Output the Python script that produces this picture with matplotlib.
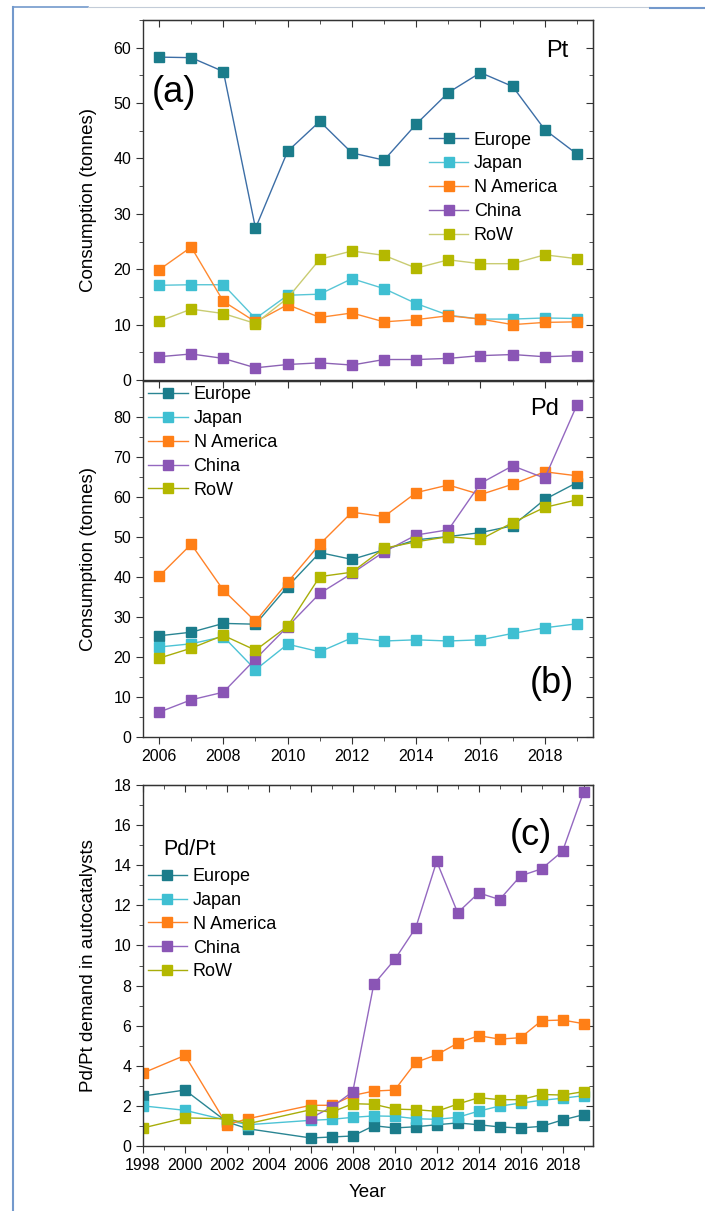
import matplotlib
matplotlib.use("Agg")
import matplotlib.pyplot as plt
from matplotlib.lines import Line2D
from matplotlib.ticker import MultipleLocator

plt.rcParams['font.family'] = ['Liberation Sans', 'DejaVu Sans']

# ---- data -------------------------------------------------------------
regions = ["Europe", "Japan", "N America", "China", "RoW"]

years_ab = [2006, 2007, 2008, 2009, 2010, 2011, 2012,
            2013, 2014, 2015, 2016, 2017, 2018, 2019]

# (a) Pt consumption, tonnes
pt_europe = [58.3, 58.2, 55.7, 27.4, 41.3, 46.7, 41.0, 39.7, 46.2, 51.9, 55.5, 53.0, 45.2, 40.8]
pt_japan = [17.1, 17.2, 17.2, 11.1, 15.3, 15.5, 18.3, 16.5, 13.8, 11.7, 11.0, 11.0, 11.2, 11.1]
pt_namerica = [19.9, 24.0, 14.2, 10.5, 13.6, 11.3, 12.1, 10.5, 10.9, 11.6, 11.0, 10.0, 10.4, 10.5]
pt_china = [4.2, 4.7, 3.9, 2.2, 2.8, 3.1, 2.7, 3.7, 3.7, 3.9, 4.4, 4.6, 4.2, 4.4]
pt_row = [10.6, 12.8, 12.0, 10.2, 14.8, 21.8, 23.3, 22.5, 20.2, 21.7, 21.0, 21.0, 22.6, 21.9]

# (b) Pd consumption, tonnes
pd_europe = [25.3, 26.2, 28.4, 28.2, 37.6, 46.1, 44.4, 46.8, 49.3, 50.1, 51.1, 52.8, 59.4, 63.6]
pd_japan = [22.5, 23.3, 25.1, 16.8, 23.2, 21.3, 24.8, 24.0, 24.3, 24.0, 24.3, 25.9, 27.3, 28.3]
pd_namerica = [40.2, 48.2, 36.7, 28.9, 38.7, 48.2, 56.2, 55.1, 61.1, 63.0, 60.6, 63.2, 66.3, 65.3]
pd_china = [6.2, 9.3, 11.2, 19.5, 27.6, 35.9, 40.9, 46.3, 50.5, 51.8, 63.4, 67.8, 64.7, 83.0]
pd_row = [19.7, 22.2, 25.4, 21.7, 27.7, 40.1, 41.2, 47.2, 48.8, 50.1, 49.4, 53.6, 57.4, 59.3]

# (c) Pd/Pt ratio
years_c = [1998, 2000, 2002, 2003, 2006, 2007, 2008, 2009, 2010,
           2011, 2012, 2013, 2014, 2015, 2016, 2017, 2018, 2019]
years_c_china = years_c[4:]
ratio_europe = [2.49, 2.79, 1.2, 0.86, 0.40, 0.45, 0.50, 1.01, 0.90,
                0.96, 1.06, 1.15, 1.06, 0.95, 0.90, 0.98, 1.30, 1.56]
ratio_japan = [2.0, 1.78, 1.28, 1.06, 1.28, 1.33, 1.43, 1.50, 1.48,
               1.36, 1.33, 1.43, 1.74, 1.99, 2.14, 2.28, 2.38, 2.51]
ratio_namerica = [3.64, 4.52, 1.06, 1.36, 2.03, 2.03, 2.52, 2.74, 2.79,
                  4.17, 4.55, 5.13, 5.50, 5.33, 5.40, 6.25, 6.28, 6.10]
ratio_china = [1.40, 1.94, 2.71, 8.06, 9.30, 10.88, 14.19, 11.63,
               12.62, 12.29, 13.47, 13.82, 14.70, 17.64]
ratio_row = [0.90, 1.40, 1.36, 1.11, 1.81, 1.69, 2.11, 2.08, 1.84,
             1.81, 1.73, 2.09, 2.41, 2.31, 2.31, 2.57, 2.54, 2.71]

# ---- style ------------------------------------------------------------
marker_colors = ["#1b7c8b", "#3fbfd2", "#ff7f16", "#8a55b5", "#b4b800"]
line_colors_a = ["#3c6ea6", "#58c6d6", "#ff8a30", "#8c62b4", "#c9cc72"]
line_colors = ["#2a8593", "#4cc3d5", "#ff8228", "#9468c0", "#a8ad0a"]

W, H = 705, 1211
fig = plt.figure(figsize=(W / 100, H / 100), dpi=100)

left, width = 143 / W, 450 / W
ax_a = fig.add_axes([left, 1 - 380 / H, width, 360 / H])
ax_b = fig.add_axes([left, 1 - 737 / H, width, 356 / H])
ax_c = fig.add_axes([left, 1 - 1146 / H, width, 361 / H])

TICK_FS = 11.5
LABEL_FS = 13.5


def plot_series(ax, xs_list, ys_list, lcolors, lw=1.0):
    for xs, ys, mc, lc, name in zip(xs_list, ys_list, marker_colors, lcolors, regions):
        ax.plot(xs, ys, color=lc, lw=lw, marker="s", ms=7,
                markerfacecolor=mc, markeredgecolor=mc, label=name)


def style_axis(ax, xmajor, xminor, ymajor, yminor, xlabels=True):
    for s in ax.spines.values():
        s.set_linewidth(1.0)
        s.set_color("#333333")
    ax.xaxis.set_major_locator(MultipleLocator(xmajor))
    ax.xaxis.set_minor_locator(MultipleLocator(xminor))
    ax.yaxis.set_major_locator(MultipleLocator(ymajor))
    ax.yaxis.set_minor_locator(MultipleLocator(yminor))
    ax.tick_params(which="both", direction="out", top=False, right=False,
                   labelsize=TICK_FS, labelbottom=xlabels, color="#333333")
    ax.tick_params(which="major", length=5)
    ax.tick_params(which="minor", length=3)
    # inward ticks on top and right
    top = ax.secondary_xaxis("top")
    top.xaxis.set_major_locator(MultipleLocator(xmajor))
    top.xaxis.set_minor_locator(MultipleLocator(xminor))
    top.tick_params(which="both", direction="in", labeltop=False, color="#333333")
    top.tick_params(which="major", length=5)
    top.tick_params(which="minor", length=3)
    right = ax.secondary_yaxis("right")
    right.yaxis.set_major_locator(MultipleLocator(ymajor))
    right.yaxis.set_minor_locator(MultipleLocator(yminor))
    right.tick_params(which="both", direction="in", labelright=False, color="#333333")
    right.tick_params(which="major", length=5)
    right.tick_params(which="minor", length=3)


def add_legend(ax, x, y):
    leg = ax.legend(loc="upper left", bbox_to_anchor=(x, y), frameon=False,
                    fontsize=13, handlelength=2.2, handletextpad=0.3,
                    labelspacing=0.38, borderpad=0, borderaxespad=0)
    return leg


# (a) Pt
plot_series(ax_a, [years_ab] * 5,
            [pt_europe, pt_japan, pt_namerica, pt_china, pt_row], line_colors_a)
ax_a.set_xlim(2005.5, 2019.5)
ax_a.set_ylim(0, 65)
style_axis(ax_a, 2, 1, 10, 5, xlabels=False)
ax_a.set_ylabel("Consumption (tonnes)", fontsize=LABEL_FS)
ax_a.yaxis.set_label_coords(-0.102, 0.5)
ax_a.text(0.02, 0.80, "(a)", transform=ax_a.transAxes, fontsize=26, va="center")
ax_a.text(0.895, 0.915, "Pt", transform=ax_a.transAxes, fontsize=17, va="center")
add_legend(ax_a, 0.635, 0.69)

# (b) Pd
plot_series(ax_b, [years_ab] * 5,
            [pd_europe, pd_japan, pd_namerica, pd_china, pd_row], line_colors)
ax_b.set_xlim(2005.5, 2019.5)
ax_b.set_ylim(0, 89)
style_axis(ax_b, 2, 1, 10, 5)
ax_b.set_ylabel("Consumption (tonnes)", fontsize=LABEL_FS)
ax_b.yaxis.set_label_coords(-0.102, 0.5)
ax_b.text(0.86, 0.92, "Pd", transform=ax_b.transAxes, fontsize=17, va="center")
ax_b.text(0.86, 0.15, "(b)", transform=ax_b.transAxes, fontsize=26, va="center")
add_legend(ax_b, 0.012, 0.985)

# (c) Pd/Pt
xs_c = [years_c, years_c, years_c, years_c_china, years_c]
plot_series(ax_c, xs_c,
            [ratio_europe, ratio_japan, ratio_namerica, ratio_china, ratio_row], line_colors)
ax_c.set_xlim(1998, 2019.45)
ax_c.set_ylim(0, 18)
style_axis(ax_c, 2, 1, 2, 1)
ax_c.set_ylabel("Pd/Pt demand in autocatalysts", fontsize=LABEL_FS)
ax_c.yaxis.set_label_coords(-0.102, 0.5)
ax_c.set_xlabel("Year", fontsize=LABEL_FS, labelpad=8)
ax_c.text(0.045, 0.82, "Pd/Pt", transform=ax_c.transAxes, fontsize=15.5, va="center")
ax_c.text(0.815, 0.86, "(c)", transform=ax_c.transAxes, fontsize=26, va="center")
add_legend(ax_c, 0.01, 0.77)

# panel frame lines round the figure
frame_blue = "#7399cc"
fig.add_artist(Line2D([13 / W, 13 / W], [0, 1 - 7 / H], color=frame_blue, lw=1.5))
fig.add_artist(Line2D([13 / W, 88 / W], [1 - 7 / H, 1 - 7 / H], color=frame_blue, lw=1.2))
fig.add_artist(Line2D([88 / W, 650 / W], [1 - 7 / H, 1 - 7 / H], color="#c3ccd8", lw=0.8))
fig.add_artist(Line2D([650 / W, 1], [1 - 8 / H, 1 - 8 / H], color=frame_blue, lw=1.5))

fig.savefig("out.png", dpi=100)
